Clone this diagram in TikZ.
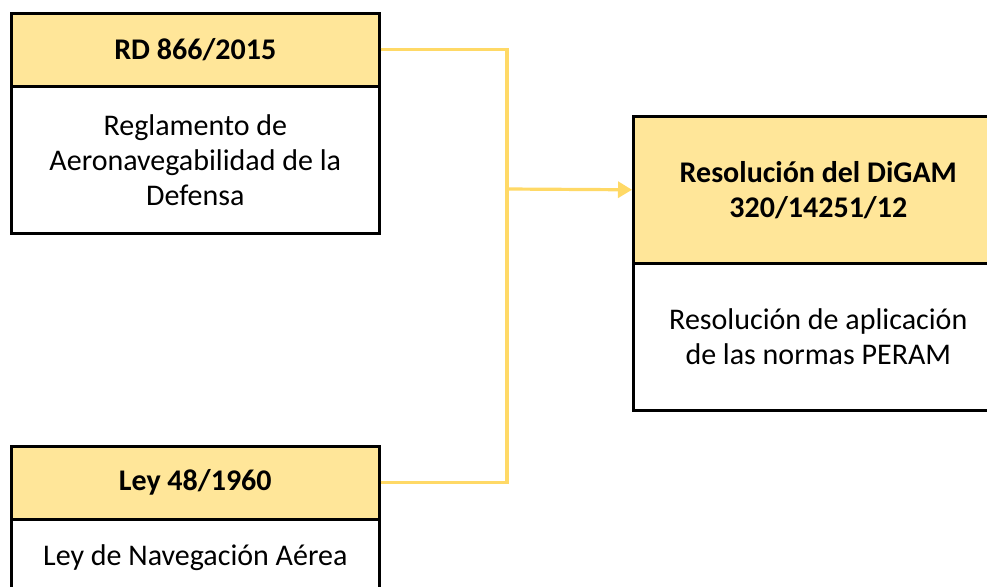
\documentclass[tikz,border=0pt]{standalone}
\usepackage{fontspec}
\setmainfont{Carlito}
\usetikzlibrary{arrows.meta}
\definecolor{hdr}{HTML}{FFE699}
\definecolor{conn}{HTML}{FFD966}
\tikzset{
  x=1pt,y=-1pt,
  hbox/.style={draw=black,line width=2.6pt,fill=hdr,rectangle,inner sep=0pt,anchor=north west,align=center,font=\fontsize{30}{35}\selectfont\bfseries},
  bbox/.style={draw=black,line width=2.6pt,fill=white,rectangle,inner sep=0pt,anchor=north west,align=center,font=\fontsize{30}{35}\selectfont},
  link/.style={draw=conn,line width=3.2pt},
}
\begin{document}
\begin{tikzpicture}
\useasboundingbox (0,0) rectangle (987,586);
\clip (0,0) rectangle (987,586);
% box 1
\node[bbox,minimum width=368pt,minimum height=147pt] (b1) at (10,85) {Reglamento de\\Aeronavegabilidad de la\\Defensa};
\node[hbox,minimum width=368pt,minimum height=73pt] (h1) at (10,12) {RD 866/2015};
% box 3
\node[bbox,minimum width=368pt,minimum height=76pt] (b3) at (10,518) {Ley de Navegación Aérea};
\node[hbox,minimum width=368pt,minimum height=73pt] (h3) at (10,445) {Ley 48/1960};
% box 2
\node[bbox,minimum width=370pt,minimum height=147pt] (b2) at (632,262) {Resolución de aplicación\\de las normas PERAM};
\node[hbox,minimum width=370pt,minimum height=147pt] (h2) at (632,115) {Resolución del DiGAM\\320/14251/12};
% connectors
\coordinate (j) at (507,189);
\draw[link] (h1.east) -| (j);
\draw[link] (h3.east) -| (j);
\draw[link,-{Triangle[length=14pt,width=16pt]}] (j) -- (h2.west);
\end{tikzpicture}
\end{document}
